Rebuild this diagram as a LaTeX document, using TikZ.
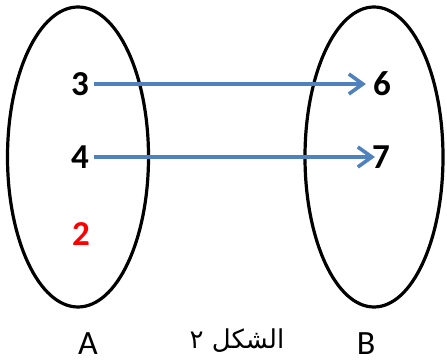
\documentclass[tikz,border=0pt]{standalone}
\usepackage{fontspec}
\setmainfont{Carlito}
\newfontfamily\arabicfont[Script=Arabic]{DejaVu Sans}
\TeXXeTstate=1
\usepackage{xcolor}
\usepackage{tikz}
\usetikzlibrary{arrows.meta,shapes.geometric}
\definecolor{azulseta}{HTML}{4F81BD}
\tikzset{
    conjunto/.style={
        ellipse,
        draw=black,
        line width=3.2pt,
        inner sep=0pt,
        minimum width=141pt,
        minimum height=300pt
    },
    elemento/.style={
        inner sep=2pt,
        font=\fontsize{35}{38}\selectfont\bfseries
    },
    rotulo/.style={font=\fontsize{34}{36}\selectfont},
    seta/.style={-{Straight Barb[length=14pt,width=20pt]}, line width=3.6pt, draw=azulseta, shorten <=3pt}
}

\begin{document}
\begin{tikzpicture}[x=1pt,y=-1pt]
    \useasboundingbox (0,0) rectangle (447,363);
    \node[conjunto] (setA) at (78,157) {};
    \node[conjunto, minimum width=138pt] (setB) at (374,157) {};

    \node[elemento] (n3) at (80,84) {3};
    \node[elemento] (n4) at (80,157) {4};
    \node[elemento, text=red] (n2) at (81,234) {2};
    \node[elemento] (n6) at (382,84) {6};
    \node[elemento] (n7) at (381,157) {7};

    \node[rotulo] (labA) at (88,344) {A};
    \node[rotulo] (labB) at (366,344) {B};
    \node[font=\fontsize{26}{30}\selectfont] (fig) at (237,341) {\arabicfont\beginR الشكل ٢\endR};

    \draw[seta, shorten >=5pt] (n3.east) -- (n6.west);
    \draw[seta, shorten >=-5pt] (n4.east) -- (n7.west);
\end{tikzpicture}
\end{document}
